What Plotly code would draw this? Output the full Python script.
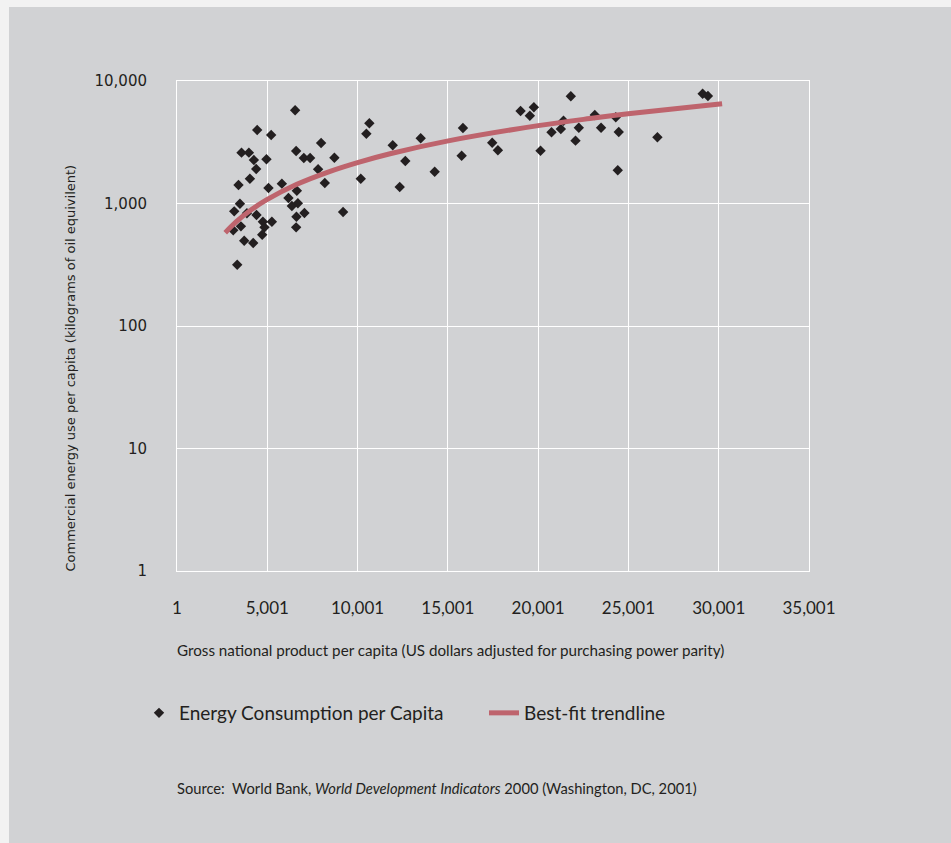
import plotly.graph_objects as go

# ---- data ----
gnp_per_capita = [
    6543, 4441, 5216, 3573, 3982, 4259, 4956, 6599, 7024, 7373,
    7981, 8717, 10487, 10653, 4386, 4038, 3407, 7815, 8186, 5808,
    5067, 6638, 6173, 10178, 3486, 3170, 3873, 4404, 6362, 6694,
    6616, 7058, 9199, 4757, 5255, 3541, 4846, 3115, 6599, 4719,
    3723, 4221, 3336, 11948, 12645, 12335, 13497, 14271, 15837, 15765,
    17457, 17772, 19028, 19542, 19764, 20134, 20742, 21258, 21406, 21810,
    22070, 22253, 23138, 23486, 24300, 24465, 24410, 26606, 29111, 29404,
]
energy_per_capita = [
    5770, 3980, 3620, 2600, 2600, 2265, 2296, 2683, 2351, 2351,
    3119, 2366, 3715, 4518, 1914, 1593, 1416, 1901, 1469, 1452,
    1339, 1271, 1109, 1593, 996, 863, 832, 805, 954, 1004,
    780, 836, 853, 710, 710, 651, 639, 604, 639, 556,
    497, 476, 316, 2986, 2223, 1364, 3406, 1818, 4132, 2455,
    3134, 2718, 5689, 5211, 6099, 2698, 3812, 4057, 4743, 7499,
    3258, 4158, 5278, 4158, 5055, 3835, 1866, 3470, 7875, 7546,
]
trend_x = [2672, 3319, 4055, 4979, 6637, 8480, 10045, 11799, 15023, 20000, 22860, 24979, 30188]
trend_y = [578, 717, 876, 1075, 1434, 1832, 2170, 2549, 3245, 4320, 4938, 5395, 6520]

x_tick_vals = [1, 5001, 10001, 15001, 20001, 25001, 30001, 35001]
x_tick_text = ["1", "5,001", "10,001", "15,001", "20,001", "25,001", "30,001", "35,001"]
y_tick_vals = [1, 10, 100, 1000, 10000]
y_tick_text = ["1", "10", "100", "1,000", "10,000"]

# ---- layout geometry (pixels) ----
W, H = 951, 843
L, R, T, B = 177, 142, 81, 272
pw, ph = W - L - R, H - T - B

def px_x(p):
    return (p - L) / pw

def px_y(p):
    return (H - B - p) / ph

TXT = "#231f20"
GRAY = "#d1d2d4"

fig = go.Figure()
fig.add_trace(go.Scatter(
    x=gnp_per_capita, y=energy_per_capita, mode="markers",
    name="Energy Consumption per Capita",
    marker=dict(symbol="diamond", size=8, color=TXT, line=dict(width=0)),
))
fig.add_trace(go.Scatter(
    x=trend_x, y=trend_y, mode="lines", line_shape="spline",
    name="Best-fit trendline",
    line=dict(color="#be646d", width=5),
))

fig.update_layout(
    width=W, height=H,
    margin=dict(l=L, r=R, t=T, b=B, pad=0),
    paper_bgcolor="#f2f2f2",
    plot_bgcolor=GRAY,
    font=dict(family="Lato, Roboto, sans-serif", color=TXT),
    showlegend=True,
    legend=dict(
        orientation="h", x=px_x(139), y=px_y(694), xanchor="left", yanchor="top",
        font=dict(family="Lato, sans-serif", size=19, color=TXT),
        bgcolor="rgba(0,0,0,0)", itemwidth=30,
        entrywidth=300, entrywidthmode="pixels",
    ),
    shapes=[dict(type="rect", xref="paper", yref="paper",
                 x0=px_x(9), x1=px_x(W + 5), y0=px_y(7), y1=px_y(H + 5),
                 fillcolor=GRAY, line=dict(width=0), layer="below")],
    annotations=[
        dict(text="Gross national product per capita (US dollars adjusted for purchasing power parity)",
             xref="paper", yref="paper", x=px_x(175), y=px_y(650), xanchor="left", yanchor="middle",
             showarrow=False, font=dict(family="Lato, sans-serif", size=15.2, color=TXT)),
        dict(text="Commercial energy use per capita (kilograms of oil equivilent)",
             xref="paper", yref="paper", x=px_x(70), y=px_y(574), xanchor="center", yanchor="bottom",
             textangle=-90, showarrow=False,
             font=dict(family="DejaVu Sans, sans-serif", size=13, color=TXT)),
        dict(text="Source:  World Bank, <i>World Development Indicators</i> 2000 (Washington, DC, 2001)",
             xref="paper", yref="paper", x=px_x(175), y=px_y(788), xanchor="left", yanchor="middle",
             showarrow=False, font=dict(family="Lato, sans-serif", size=14.7, color=TXT)),
    ],
)

fig.update_xaxes(
    range=[1, 35001], tickvals=x_tick_vals, ticktext=x_tick_text,
    showgrid=True, gridcolor="white", gridwidth=1,
    showline=True, linecolor="white", linewidth=1, mirror=True,
    zeroline=False, ticks="outside", ticklen=22, tickcolor="rgba(0,0,0,0)",
    tickfont=dict(family="Lato, sans-serif", size=17, color=TXT),
)
fig.update_yaxes(
    type="log", range=[0, 4], tickvals=y_tick_vals, ticktext=y_tick_text,
    showgrid=True, gridcolor="white", gridwidth=1,
    showline=True, linecolor="white", linewidth=1, mirror=True,
    zeroline=False, ticks="outside", ticklen=26, tickcolor="rgba(0,0,0,0)",
    tickfont=dict(family="DejaVu Sans, Verdana, sans-serif", size=15, color=TXT),
)

fig.write_html(
    "out.html",
    config={"displayModeBar": False},
    post_script="document.body.style.margin='0';document.body.style.background='#f2f2f2';",
)
